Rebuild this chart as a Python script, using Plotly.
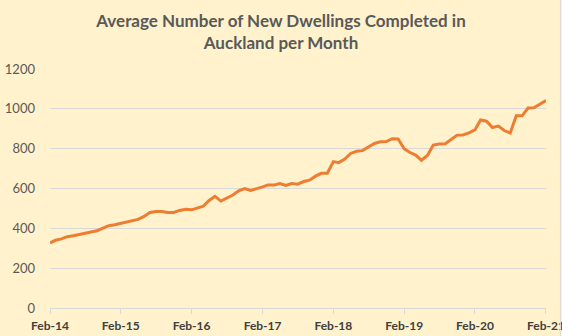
import plotly.graph_objects as go
import pandas as pd

start_month = "2014-02-01"
values = [
    327, 340, 347, 358, 363, 368, 374, 382, 388, 402, 413, 418,
    425, 434, 441, 445, 460, 480, 485, 484, 479, 480, 490, 496,
    493, 500, 511, 540, 561, 537, 553, 567, 588, 600, 590, 598,
    608, 618, 617, 625, 615, 625, 622, 635, 642, 662, 676, 677,
    735, 730, 748, 776, 787, 790, 810, 826, 835, 836, 850, 849,
    800, 782, 768, 742, 766, 818, 823, 825, 846, 868, 869, 879,
    894, 944, 938, 906, 913, 891, 879, 965, 965, 1004, 1005, 1022,
    1042,
]
dates = pd.date_range(start_month, periods=len(values), freq="MS")

tick_dates = pd.date_range("2014-02-01", "2021-02-01", freq="12MS")
tick_labels = ["Feb-14", "Feb-15", "Feb-16", "Feb-17", "Feb-18", "Feb-19", "Feb-20", "Feb-21"]
y_ticks = [0, 200, 400, 600, 800, 1000, 1200]

title_text = "Average Number of New Dwellings Completed in<br>Auckland per Month"

fig = go.Figure()
fig.add_trace(go.Scatter(
    x=dates, y=values, mode="lines",
    line=dict(color="#ED7D31", width=3),
    hoverinfo="skip", showlegend=False,
))

fig.update_layout(
    width=562, height=336,
    margin=dict(l=50, r=16, t=69, b=28),
    paper_bgcolor="#FFF2CC", plot_bgcolor="#FFF2CC",
    title=dict(
        text=title_text, x=0.5, xanchor="center", y=0.92, yanchor="middle",
        font=dict(family="Lato", size=17, color="#595959", weight="bold"),
    ),
    font=dict(family="Lato"),
)
fig.update_xaxes(
    range=["2014-02-01", "2021-02-01 08:00"],
    tickvals=tick_dates, ticktext=tick_labels,
    showgrid=False, showline=True, linecolor="#D9D9D9", linewidth=1,
    ticks="outside", ticklen=5, tickcolor="#D9D9D9",
    ticklabelstandoff=2, ticklabeloverflow="allow", automargin=False,
    tickfont=dict(family="Lato", size=12, color="#404040", weight="bold"),
    zeroline=False, fixedrange=True,
)
fig.update_yaxes(
    range=[0, 1200], tickvals=y_ticks,
    showgrid=True, gridcolor="#D9D9D9", gridwidth=1,
    showline=False, zeroline=False, ticks="",
    ticklabelstandoff=14, automargin=False,
    tickfont=dict(family="Lato", size=13, color="#595959"),
    fixedrange=True,
)
fig.add_shape(type="line", xref="paper", yref="paper", x0=1.029, x1=1.029, y0=-0.2, y1=1.3,
              line=dict(color="#D9D9D9", width=1))

fig.write_html("out.html")
